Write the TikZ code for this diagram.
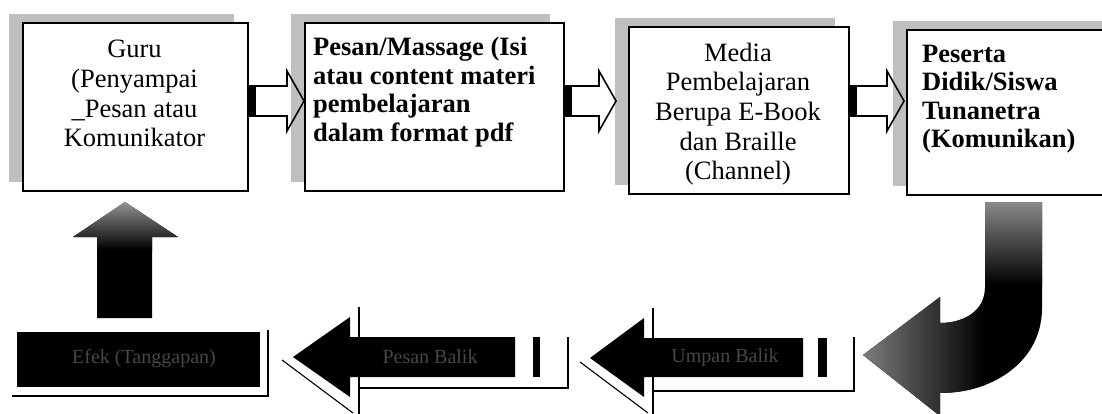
\documentclass[tikz,border=0pt]{standalone}
\usepackage{fontspec}
\setmainfont{Liberation Serif}
\usetikzlibrary{calc,shadows}
\newcommand\flowarrow[2]{%
  \draw[flow] ($(#1)+(0,-15)$) -- ($(#2)+(-17,-15)$) -- ($(#2)+(-17,-30)$) -- (#2)
     -- ($(#2)+(-17,30)$) -- ($(#2)+(-17,15)$) -- ($(#1)+(0,15)$);
  \fill[tailbar] ($(#1)+(0,-15)$) rectangle ($(#1)+(7,15)$);}
\begin{document}
\begin{tikzpicture}[x=1pt,y=-1pt,
  box/.style={draw=black,line width=2pt,fill=white,inner sep=0pt,anchor=north west,
    drop shadow={shadow xshift=-14pt,shadow yshift=9pt,fill=black!25,opacity=1}},
  regtext/.style={inner sep=0pt,font=\fontsize{26.5}{29.7}\selectfont,align=center,anchor=north},
  boldtext/.style={inner sep=0pt,font=\fontsize{26.5}{28.5}\selectfont\bfseries,align=left,anchor=north west},
  flow/.style={draw=black,line width=1.6pt,line join=miter},
  tailbar/.style={fill=black},
  darkshape/.style={fill=black},
  echo/.style={draw=black,line width=1.1pt},
  darktext/.style={text=black!72,inner sep=0pt,font=\fontsize{20}{24}\selectfont}
]
\useasboundingbox (0,0) rectangle (1102,414);
\fill[white] (0,0) rectangle (1102,414);

% ---------- top boxes ----------
\node[box,minimum width=225pt,minimum height=168pt] (guru) at (22,22) {};
\node[box,minimum width=259pt,minimum height=168pt] (pesan) at (304,22) {};
\node[box,minimum width=220pt,minimum height=167pt] (media) at (628,26) {};
\node[box,minimum width=215pt,minimum height=165pt] (peserta) at (906,29) {};

\node[regtext] (tguru) at (134.5,40) {Guru\\(Penyampai\\\_Pesan atau\\Komunikator};
\node[boldtext] (tpesan) at (313,37) {Pesan/Massage (Isi\\atau content materi\\pembelajaran\\dalam format pdf};
\node[regtext] (tmedia) at (738,42.5) {Media\\Pembelajaran\\Berupa E-Book\\dan Braille\\(Channel)};
\node[boldtext] (tpeserta) at (922,44.5) {Peserta\\Didik/Siswa\\Tunanetra\\(Komunikan)};

% ---------- top block arrows ----------
\coordinate (a1t) at (guru.east |- 0,101);
\coordinate (a1h) at (pesan.west |- a1t);
\coordinate (a2t) at (pesan.east |- a1t);
\coordinate (a2h) at ($(media.west |- a1t)+(-12,0)$);
\coordinate (a3t) at (media.east |- a1t);
\coordinate (a3h) at ($(peserta.west |- a1t)+(-2,0)$);
\flowarrow{a1t}{a1h}
\flowarrow{a2t}{a2h}
\flowarrow{a3t}{a3h}

% ---------- curved arrow ----------
\def\curvedpath{(985,202) -- (1042,202) -- (1042,308)
   .. controls (1042,360) and (995,393) .. (940,393) -- (940,416) -- (863,355)
   -- (940,297) -- (940,323) .. controls (965,323) and (985,310) .. (985,288) -- cycle}
\fill[darkshape] \curvedpath;
\begin{scope}
  \clip \curvedpath;
  \shade[top color=black!45,bottom color=black] (980,200) rectangle (1046,285);
  \shade[left color=black!50,right color=black] (860,288) rectangle (985,418);
\end{scope}

% ---------- right flat arrow ----------
\draw[echo] (580,362) -- (648,413);
\draw[echo] (653,308) -- (653,414);
\draw[echo] (653,391) -- (854,391) -- (854,337);
\fill[darkshape] (590,358) -- (644,318) -- (644,338) -- (803,338) -- (803,377)
   -- (644,377) -- (644,397) -- cycle;
\fill[tailbar] (818,338) rectangle (827,377);
\node[darktext] (fb3) at (725,358) {Umpan Balik};

% ---------- middle flat arrow ----------
\draw[echo] (282,360) -- (353,413);
\draw[echo] (359,307) -- (359,414);
\draw[echo] (359,388) -- (568,388) -- (568,337);
\fill[darkshape] (293,357) -- (350,317) -- (350,337) -- (515,337) -- (515,377)
   -- (350,377) -- (350,397) -- cycle;
\fill[tailbar] (533,337) rectangle (540,377);
\node[darktext] (fb2) at (430,357) {Pesan Balik};

% ---------- left block ----------
\draw[echo] (12,396) -- (268,396) -- (268,330);
\fill[darkshape] (17,332) rectangle (260,387);
\node[darktext] (fb1) at (144,359) {Efek (Tanggapan)};

% ---------- up arrow ----------
\def\uppath{(97,318) -- (97,237) -- (73,237) -- (125,202) -- (178,237) -- (152,237) -- (152,318) -- cycle}
\fill[darkshape] \uppath;
\begin{scope}
  \clip \uppath;
  \shade[top color=black!40,bottom color=black] (70,200) rectangle (180,250);
\end{scope}
\end{tikzpicture}
\end{document}
